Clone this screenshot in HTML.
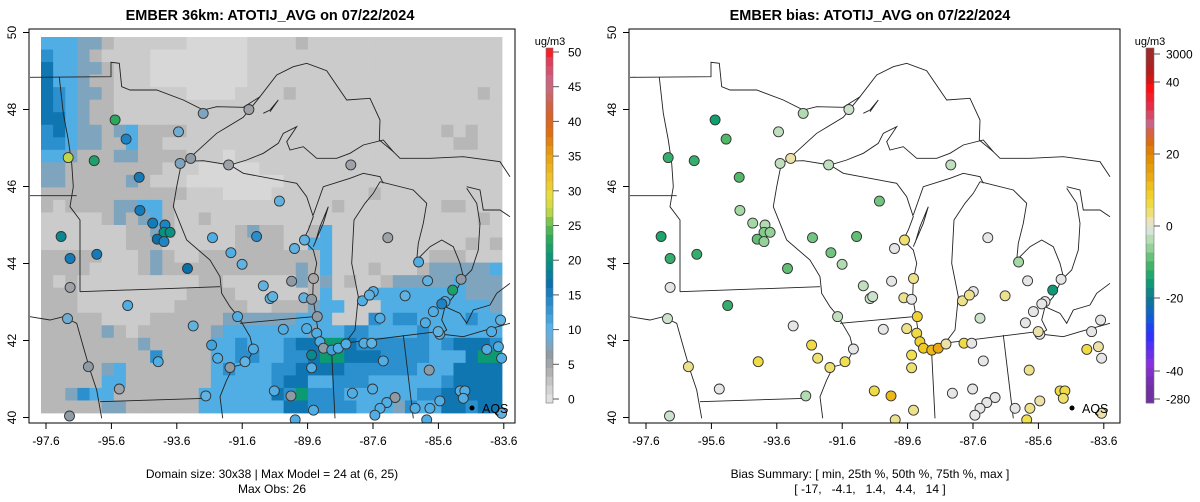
<!DOCTYPE html>
<html><head><meta charset="utf-8">
<style>
html,body{margin:0;padding:0;background:#fff;}
svg{display:block;font-family:"Liberation Sans",Arial,sans-serif;}
</style></head>
<body>
<svg id="chart" width="1200" height="502" viewBox="0 0 1200 502" xmlns="http://www.w3.org/2000/svg">
<defs>
<clipPath id="clipL"><rect x="29" y="29" width="486" height="394"/></clipPath>
<clipPath id="clipR"><rect x="629" y="29" width="491" height="394"/></clipPath>
</defs>
</svg>
<script>
// ---------- data ----------
const xTickLabels = ["-97.6","-95.6","-93.6","-91.6","-89.6","-87.6","-85.6","-83.6"];
const yTickLabels = ["40","42","44","46","48","50"];
const obsTicks = [0,5,10,15,20,25,30,35,40,45,50];
const biasTickLabels = ["3000","40","20","0","-20","-40","-280"];
const biasTickValues = [3000,40,20,0,-20,-40,-280];
// model grid 30 rows x 38 cols (codes -> levelValues)
const gridRows = [
"eeeddcbbbbbbaaaaabbbbcbbbbbbbbbbbbbbbb",
"feedcbbbbaaaaaaaabbbbbbbbbbbbbbbbbbbbb",
"geeddcbbbaaaaaaaabbbbbbbbbbbbbbbbbbbbb",
"geedccbbbaaaaaaaabbbbbbbbbbbbbbbbbbbbb",
"gfeddcbbbbbbaaaabbbbcbbbbbbbbbbbbbbbcb",
"gfedccbbbbbbbbbbbbbbbbbbbbbbbbbbbbbbbb",
"ggedccbbbbbbbbbbbbbbbbbbbbbbbbbbbbbbbb",
"fgeddcdeccccbbbbbbbbbbbbbbbbbbbbbcbcbb",
"ffeddcceccbbbbbbbbbbbbbbbbbbbbbbbbccbb",
"eedcccddccccbbbabbbbbbbbbbbbbbbbbbbbbb",
"ddccccccccbbbaaaaabbbbbbbbbbbbbbbbbbbb",
"ddcccccdcbbbaaaaaaaabbbbbbbbbbbbbbbbbb",
"ccccccccccccbbbaaaabbbbbbbbcbbbbbbbbbb",
"cbccccddeecbbbbbbbbbbbbbcbbbbbbbbccbbb",
"bbbbbcdcdecbbcbbbbbbbbbbbbbbbbbbbbbbcb",
"bbbbbbbccdcbbbbbcdccbbcebbbbbbbbbbbbbb",
"bbbbbbbcccbbbbbbccccbbeebbbbbbbbbbbcbc",
"cccccbbbcdcbbccccccccccebbbbbbbbcccbbb",
"ccccbbbbcdcccccccccccdcebbbcbbbcddddde",
"cbcbbbbbbbbbbccbbbbbbdcdbcbbcdddddeddd",
"cccbbbbbbbbbccccbbbbbbcebbbeeeeeeeeddd",
"cccbbbbbbbbccccccbbcccdeebbbeeeeeeeeed",
"cccccbbbbccccccddddddeeebbbfeffeeeefee",
"cccccdcbccccccdeeeeeeedeeffeeeefeeeeee",
"ccccccccdccccceefeeefgghhgffffffefgggf",
"cccccccccfcccceeffeeffghhgggffffeeeghh",
"cccccdecccccccefeeeffggggffffffeeegggg",
"ccccceeccccccceeeeefggeefffeeeeeefgggg",
"ccdfeeccccccceeeeeegfhfffeeeeeeffggggg",
"cccccddcccccceeeeeeeggffffeeedfeeggfgg"];
const levelCodes = ["a","b","c","d","e","f","g","h"];
const levelValues = [1.4,2.6,4.0,8.0,11.0,13.8,16.4,21];
// monitor sites
const siteLon = [-92.71,-91.29,-95.45,-93.48,-95.11,-96.91,-96.10,-93.43,-93.10,-91.92,-88.12,-94.70,-90.34,-94.68,-94.28,-93.90,-93.93,-93.74,-94.14,-93.93,-97.13,-92.42,-91.05,-89.56,-89.87,-86.97,-96.85,-96.02,-91.85,-93.20,-91.50,-86.01,-89.28,-89.96,-90.84,-85.73,-84.95,-84.69,-96.85,-95.06,-90.63,-90.55,-89.58,-89.34,-87.76,-87.42,-87.54,-86.43,-85.19,-85.29,-85.55,-96.93,-93.02,-91.64,-89.16,-87.21,-85.80,-90.22,-89.49,-89.18,-89.08,-88.97,-88.71,-88.51,-88.27,-87.71,-87.47,-85.35,-85.40,-83.74,-83.46,-83.53,-83.89,-83.43,-92.45,-92.26,-91.15,-91.41,-94.11,-89.34,-89.34,-87.11,-85.68,-91.88,-96.28,-95.32,-92.63,-90.50,-89.98,-88.07,-87.44,-86.74,-87.00,-85.35,-84.72,-84.57,-84.62,-86.12,-85.66,-87.21,-87.37,-89.28,-96.87,-83.43,-85.76,-89.85];
const siteLat = [47.90,48.00,47.73,47.42,47.23,46.75,46.67,46.60,46.73,46.56,46.56,46.24,45.62,45.38,45.05,45.00,44.81,44.81,44.63,44.57,44.70,44.67,44.70,44.61,44.39,44.67,44.13,44.24,44.28,43.87,43.98,44.04,43.61,43.54,43.42,43.55,43.31,43.59,43.38,42.91,43.09,43.14,43.11,43.07,43.03,43.27,43.18,43.16,43.01,42.95,42.75,42.57,42.38,42.62,42.62,42.58,42.46,42.29,42.31,42.19,41.97,41.80,41.75,41.80,41.91,41.93,41.93,42.16,42.23,42.23,42.53,41.84,41.77,41.54,41.88,41.54,41.78,41.45,41.45,41.62,41.29,41.47,41.23,41.30,41.32,40.74,40.56,40.69,40.56,40.63,40.74,40.52,40.39,40.43,40.69,40.69,40.50,40.24,40.24,40.24,40.06,40.19,40.04,40.11,39.94,39.94];
const siteObs = [8,6,23,9,15,27,22,8,7,6,6,16,10,16,16,15,20,20,17,15,19,11,14,10,10,6,16,16,11,17,10,11,5,7,10,10,22,7,6,11,10,10,10,7,11,11,10,10,11,15,11,9,10,11,7,11,11,11,11,11,11,7,12,11,11,11,10,11,10,11,10,11,11,11,12,11,11,10,11,19,11,11,7,7,7,6,10,11,7,11,11,7,11,11,11,11,11,11,11,11,11,11,7,10,11,11];
const siteBias = [-4,-2,-15,-3,-10,-12,-12,-3,2,-3,-3,-10,-8,-5,-5,-4,-7,-6,-9,-6,-14,-8,-9,4,0,0,-12,-12,-8,-9,-4,-5,3,0,-3,0,-16,0,0,-12,-2,-2,3,0,3,0,3,3,0,0,0,-2,0,-3,8,-2,0,0,3,6,8,10,12,14,2,6,0,0,2,0,0,2,6,0,6,4,0,5,6,5,4,0,3,4,3,0,-4,6,12,0,0,0,0,2,6,6,4,0,3,0,0,3,-2,2,5,3];

// ---------- scales / colors ----------
const svg = document.getElementById('chart');
const NS = 'http://www.w3.org/2000/svg';
function mk(tag, attrs, parent){const e=document.createElementNS(NS,tag);for(const k in attrs)e.setAttribute(k,attrs[k]);(parent||svg).appendChild(e);return e;}
const PANEL_OFF = [0,600];
function lonX(lon, p){return 46 + (lon+97.6)*32.15 + PANEL_OFF[p];}
function tickX(i, p){return 46 + i*65.4 + PANEL_OFF[p];}
function latY(lat){return 417.5 - (lat-40)*38.5;}
function hex(c){return [parseInt(c.slice(1,3),16),parseInt(c.slice(3,5),16),parseInt(c.slice(5,7),16)];}
function interp(stops, v){
  if(v<=stops[0][0]) return stops[0][1];
  for(let i=1;i<stops.length;i++){ if(v<=stops[i][0]){const a=stops[i-1],b=stops[i];const t=(v-a[0])/(b[0]-a[0]);const c1=hex(a[1]),c2=hex(b[1]);return 'rgb('+c1.map((x,j)=>Math.round(x+(c2[j]-x)*t)).join(',')+')';}}
  return stops[stops.length-1][1];
}
const obsStops=[[0,'#e6e6e6'],[2.5,'#cccccc'],[5,'#a9a9a9'],[7,'#8e9aa4'],[8.5,'#78aacb'],[10.5,'#58b4e8'],[12.5,'#3a9cd8'],[15,'#1f84c6'],[17,'#0870aa'],[19,'#0a8890'],[21,'#0c9a72'],[23,'#2aa860'],[25,'#60bc52'],[27,'#c0d848'],[29,'#e8e040'],[31,'#f0c830'],[35,'#e8a010'],[38,'#e07010'],[41,'#d46030'],[45,'#c86a8a'],[48,'#e04060'],[50,'#ff1010']];
const biasStops=[[-45,'#7030a0'],[-38,'#8a30e0'],[-30,'#2a30ff'],[-25,'#1060d0'],[-20,'#107890'],[-15,'#10a070'],[-10,'#50b868'],[-5,'#a4d8a4'],[-2,'#cce2cc'],[0,'#e6e6e6'],[2,'#ece2a8'],[5,'#f0e050'],[10,'#f0c820'],[14,'#e8a814'],[20,'#e08800'],[25,'#d86020'],[28,'#c86a8a'],[33,'#e03050'],[38,'#ff1010'],[42,'#c01818'],[46,'#a02828']];
function obsColor(v){return interp(obsStops,v);}
function biasColor(v){return interp(biasStops,v);}

// ---------- titles ----------
let t;
t=mk('text',{x:270,y:20,'text-anchor':'middle','font-size':'14.5','font-weight':'bold',fill:'#000'});t.textContent='EMBER 36km: ATOTIJ_AVG on 07/22/2024';


t=mk('text',{x:870,y:20,'text-anchor':'middle','font-size':'14.5','font-weight':'bold',fill:'#000'});t.textContent='EMBER bias: ATOTIJ_AVG on 07/22/2024';



// ---------- model grid (left) ----------
const gGrid = mk('g',{'clip-path':'url(#clipL)'});


const GX0=41,GX1=502,GY0=37,GY1=413;
const nR=gridRows.length,nC=38,cw=(GX1-GX0)/nC,ch=(GY1-GY0)/nR;
gridRows.forEach((row,r)=>{
  for(let c=0;c<nC;c++){
    const code=row[Math.min(c,row.length-1)];
    const v=levelValues[levelCodes.indexOf(code)];
    const cell=mk('rect',{x:(GX0+c*cw).toFixed(2),y:(GY0+r*ch).toFixed(2),width:(cw+0.4).toFixed(2),height:(ch+0.4).toFixed(2),fill:obsColor(v)},gGrid);
    
    
  }
});

// ---------- map outlines (zoom-traced, pixel space) ----------
const outlines=[
[0,142,243,140,243,97,268,100,275,170,300,180,380,180,460,210,520,240,560,230,640,232,690,200],
[470,392,560,310,640,262,690,200,740,135,790,110,830,100,890,122,950,210,1020,205,1050,270,1048,330,1090,365,1110,385,1200,385,1300,380,1410,395,1440,440],
[440,395,520,392,600,405,650,390,700,370,745,340,760,310,800,290,770,335,780,360,820,350,860,385,920,385,960,370,1000,345,1060,330,1090,365],
[600,405,640,430,720,445,800,460,830,500,850,560,835,600,820,630],
[850,555,880,470,960,445,1000,430,1050,440,1060,460],
[820,630,850,660,860,700,850,750,848,800,858,860,865,910,880,950,920,945,945,940,975,900,985,800,965,700,972,570,1005,520,1030,490,1050,455],
[850,650,880,580,895,530,870,590,855,640],
[1050,455,1150,480,1190,520,1180,580,1165,640,1160,690,1200,650,1235,630,1270,650,1290,700,1300,740,1290,760,1270,800,1245,830,1235,870,1250,900,1230,912],
[1310,470,1350,480,1360,540,1410,540,1440,560],
[1300,745,1325,720,1345,660,1350,580,1340,520,1310,475],
[1245,830,1290,850,1310,880,1330,840,1380,825,1400,790,1440,760],
[1230,912,1300,920,1350,905,1440,880],
[940,940,1220,905],[905,970,915,1165],[1120,915,1150,1165],[630,880,850,860],
[88,142,100,250,115,330,125,400,130,470,120,530,150,570,150,785],
[0,497,140,497],[150,785,570,770],
[455,395,440,470,430,530,470,630,540,690,570,740,575,790,600,830,625,860,660,920,670,960,650,1000,610,1010,590,1050,570,1100,578,1165],
[0,860,60,870,100,860,140,880,160,950,180,1020,200,1080,215,1165],
[210,1115,530,1105],
[700,250,720,240,745,210,720,245]
];
[0,1].forEach(p=>{
  const g=mk('g',{'clip-path':p?'url(#clipR)':'url(#clipL)',fill:'none',stroke:'#222','stroke-width':'0.9'});
  
  
  outlines.forEach(l=>{
    let pts=[];for(let i=0;i<l.length;i+=2)pts.push((30+l[i]/3+PANEL_OFF[p]).toFixed(1)+','+(30+l[i+1]/3).toFixed(1));
    const pl=mk('polyline',{points:pts.join(' ')},g);
    
    
  });
});

// ---------- sites ----------
[0,1].forEach(p=>{
  const g=mk('g',{'clip-path':p?'url(#clipR)':'url(#clipL)'});
  
  
  siteLon.forEach((lon,i)=>{
    const v=p?siteBias[i]:siteObs[i];
    const c=mk('circle',{cx:lonX(lon,p).toFixed(1),cy:latY(siteLat[i]).toFixed(1),r:5,fill:p?biasColor(v):obsColor(v),stroke:'#333','stroke-width':'0.9'},g);
    
    
  });
  const d=mk('circle',{cx:472+PANEL_OFF[p],cy:408,r:2.5,fill:'#000'});
  
  
  const tx=mk('text',{x:482+PANEL_OFF[p],y:413,'font-size':'12.5',fill:'#000'});tx.textContent='AQS';
  
  
});

// ---------- axes ----------
[0,1].forEach(p=>{
  const o=PANEL_OFF[p];
  const box=mk('rect',{x:29+o,y:29,width:p?491:486,height:394,fill:'none',stroke:'#000','stroke-width':'1'});
  
  
  xTickLabels.forEach((lab,i)=>{
    const x=tickX(i,p);
    const tk=mk('line',{x1:x,x2:x,y1:423,y2:429,stroke:'#000'});
    
    
    const tl=mk('text',{x:x,y:445,'text-anchor':'middle','font-size':'12',fill:'#000'});tl.textContent=lab;
    
    
  });
  yTickLabels.forEach((lab)=>{
    const y=latY(+lab);
    const tk=mk('line',{x1:23+o,x2:29+o,y1:y,y2:y,stroke:'#000'});
    
    
    const tl=mk('text',{x:16+o,y:y,'text-anchor':'middle','font-size':'12',fill:'#000',transform:'rotate(-90 '+(16+o)+' '+y+')'});tl.textContent=lab;
    
    
  });
});
let s;
s=mk('text',{x:272,y:478,'text-anchor':'middle','font-size':'12',fill:'#000'});s.textContent='Domain size: 30x38 | Max Model = 24 at (6, 25)';


s=mk('text',{x:272,y:493,'text-anchor':'middle','font-size':'12',fill:'#000'});s.textContent='Max Obs: 26';


s=mk('text',{x:870,y:478,'text-anchor':'middle','font-size':'12',fill:'#000'});s.textContent='Bias Summary: [ min, 25th %, 50th %, 75th %, max ]';


s=mk('text',{x:870,y:493,'text-anchor':'middle','font-size':'12',fill:'#000',style:'white-space:pre'});s.textContent='[ -17,   -4.1,   1.4,   4.4,   14 ]';



// ---------- obs colorbar ----------
const cbL=mk('g',{});


const CB_TOP=48,CB_BOT=403,NB=40;
function obsCbY(v){return 399 - v*6.94;}
for(let i=0;i<NB;i++){
  const v0=i*50/NB;
  const r=mk('rect',{x:546,y:(CB_BOT-(i+1)*(CB_BOT-CB_TOP)/NB).toFixed(2),width:7,height:((CB_BOT-CB_TOP)/NB+0.4).toFixed(2),fill:obsColor(v0+0.6)},cbL);
  
  
}
mk('rect',{x:546,y:CB_TOP,width:7,height:CB_BOT-CB_TOP,fill:'none',stroke:'#777','stroke-width':'0.6'},cbL);
obsTicks.forEach(v=>{
  const y=obsCbY(v);
  const l=mk('line',{x1:553,x2:559,y1:y,y2:y,stroke:'#555'},cbL);
  
  
  const tl=mk('text',{x:568,y:y+4.5,'font-size':'12',fill:'#000'},cbL);tl.textContent=String(v);
  
  
});
s=mk('text',{x:550,y:45,'text-anchor':'middle','font-size':'11',fill:'#000'});s.textContent='ug/m3';



// ---------- bias colorbar ----------
const cbR=mk('g',{});


const biasTickY=[54,82,154,226,298,371,399];
for(let i=0;i<NB;i++){
  const yTop=CB_BOT-(i+1)*(CB_BOT-CB_TOP)/NB, ym=yTop+(CB_BOT-CB_TOP)/NB/2;
  const v=(226-ym)/3.6;
  const r=mk('rect',{x:1146,y:yTop.toFixed(2),width:8,height:((CB_BOT-CB_TOP)/NB+0.4).toFixed(2),fill:biasColor(v)},cbR);
  
  
}
mk('rect',{x:1146,y:CB_TOP,width:8,height:CB_BOT-CB_TOP,fill:'none',stroke:'#777','stroke-width':'0.6'},cbR);
biasTickLabels.forEach((lab,i)=>{
  const y=biasTickY[i];
  const l=mk('line',{x1:1154,x2:1160,y1:y,y2:y,stroke:'#555'},cbR);
  
  
  const tl=mk('text',{x:1166,y:y+4.5,'font-size':'12',fill:'#000'},cbR);tl.textContent=lab;
  
  
});
s=mk('text',{x:1150,y:45,'text-anchor':'middle','font-size':'11',fill:'#000'});s.textContent='ug/m3';


</script>
</body></html>
